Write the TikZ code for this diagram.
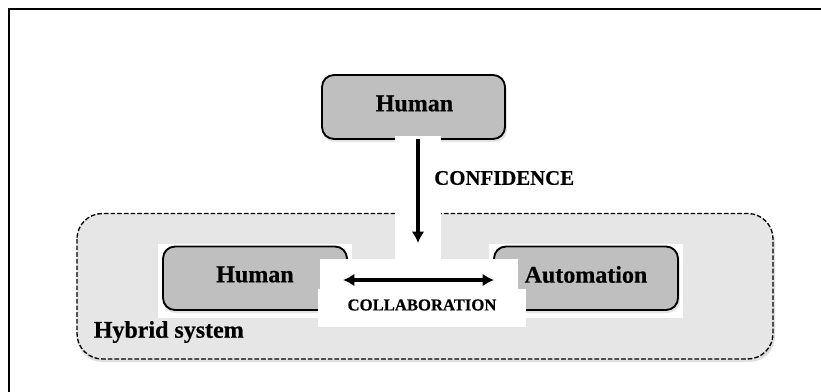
\documentclass[tikz,border=0pt]{standalone}
\usepackage{fontspec}
\setmainfont[BoldFeatures={FakeBold=0.5}]{Liberation Serif}
\usetikzlibrary{arrows.meta}
\definecolor{boxgray}{RGB}{191,191,191}
\definecolor{hybridgray}{RGB}{230,230,230}
\tikzset{
  x=0.75pt,y=-0.75pt,
  blockbox/.style={draw=black,line width=1.4pt,fill=boxgray,rounded corners=9pt},
  softshadow/.style={fill=black,fill opacity=0.10,draw=none,rounded corners=9pt},
  backdrop/.style={fill=white,draw=none},
  lab/.style={inner sep=0pt,text=black},
  bigfont/.style={font=\bfseries\fontsize{18}{20}\selectfont},
  midfont/.style={font=\bfseries\fontsize{15.6}{17}\selectfont},
  smallfont/.style={font=\bfseries\fontsize{12.5}{14}\selectfont},
  conn/.style={line width=2.5pt,-{Latex[length=8.5pt,width=9.5pt]}},
  conntwo/.style={line width=2.5pt,{Latex[length=8.5pt,width=9.5pt]}-{Latex[length=8.5pt,width=9.5pt]}}
}
\begin{document}
\begin{tikzpicture}
\useasboundingbox (0,0) rectangle (821,392);
\fill[white] (0,0) rectangle (821,392);
\draw[black,line width=1.5pt] (8.5,392) -- (8.5,9);
\draw[black,line width=2pt] (7.5,9) -- (821,9);
% hybrid
\fill[black,fill opacity=0.12,rounded corners=19pt] (77,217) rectangle (775,362);
\draw[fill=hybridgray,draw=black,line width=1pt,dash pattern=on 3.5pt off 1.5pt,rounded corners=19pt] (77,213.5) rectangle (773,359);
% top box
\fill[softshadow] (322,78) rectangle (507,142);
\draw[blockbox] (322,75) rectangle (505,139);
\node[lab,bigfont] (top) at (414.5,103.5) {Human};
% lower boxes
\fill[backdrop] (158,244) rectangle (352,318);
\fill[backdrop] (489,244) rectangle (683,318);
\fill[softshadow] (163,249) rectangle (349,313);
\fill[softshadow] (494,249) rectangle (680,313);
\draw[blockbox] (163,246.5) rectangle (347,310);
\draw[blockbox] (494,246.5) rectangle (678,310);
% white masks
\fill[backdrop] (395,136) rectangle (441,260);
\fill[backdrop] (320,259) rectangle (518,290);
\fill[backdrop] (318,289) rectangle (526,327);
\node[lab,bigfont] (hleft) at (255,274.5) {Human};
\node[lab,bigfont] (auto) at (586,274.5) {Automation};
\node[lab,midfont,anchor=west] (conf) at (434,178) {CONFIDENCE};
\node[lab,smallfont] (coll) at (422,305) {COLLABORATION};
\node[lab,bigfont,anchor=west] (hyb) at (93.5,332) {Hybrid system};
\coordinate (ctop) at (418,139);
\coordinate (cbot) at (418,243);
\coordinate (cl) at (343,280);
\coordinate (cr) at (494,280);
\draw[conn] (ctop) -- (cbot);
\draw[conntwo] (cl) -- (cr);
\end{tikzpicture}
\end{document}
